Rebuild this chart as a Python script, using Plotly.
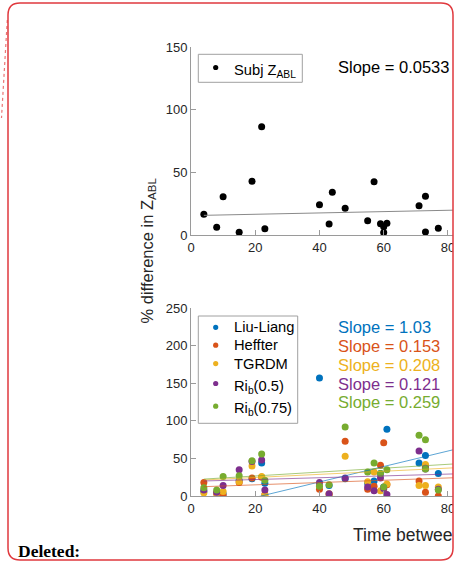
import plotly.graph_objects as go

# ---------------- data ----------------
x_subj = [4, 8, 10, 15, 19, 22, 23, 40, 43, 44, 48, 55, 57, 59, 60, 60, 61, 71, 73, 73, 77]
y_subj = [16.5, 6.1, 30.6, 2.1, 42.9, 86.5, 5.0, 24.2, 8.8, 34.1, 21.3, 11.4, 42.6, 9.0, 6.6, 2.0, 9.3, 23.4, 30.9, 2.4, 5.3]
subj_name = "Subj Z<sub>ABL</sub>"
subj_slope = 0.0533
subj_intercept = 15.5

x_methods = [4, 8, 10, 15, 19, 22, 23, 40, 43, 48, 55, 57, 59, 60, 61, 71, 73, 73, 77]
liu_liang = [6, 4, 3, 21, 23, 44, 17, 157, 14, 23, 17, 20, 30, 12, 89, 44, 54, 38, 30]
heffter   = [18, 3, 1, 18, 24, 25, 2, 9, 2, 73, 9, 13, 41, 71, 15, 20, 40, 5, 0]
tgrdm     = [4, 4, 6, 19, 40, 26, 1, 14, 3, 53, 19, 32, 7, 8, 16, 14, 42, 14, 12]
rib05     = [8, 5, 14, 35, 46, 48, 8, 18, 3, 24, 12, 7, 24, 10, 2, 60, 37, 36, 9]
rib075    = [11, 8, 26, 27, 47, 56, 21, 13, 15, 92, 32, 44, 30, 12, 35, 81, 75, 36, 8]

method_names = ["Liu-Liang", "Heffter", "TGRDM", "Ri<sub>b</sub>(0.5)", "Ri<sub>b</sub>(0.75)"]
method_slopes = [1.03, 0.153, 0.208, 0.121, 0.259]
method_intercepts = [-22.5, 11.8, 20.5, 19.5, 21.5]
method_slope_labels = ["1.03", "0.153", "0.208", "0.121", "0.259"]
fit_x_range = [4, 85]

x_ticks = [0, 20, 40, 60, 80]
y_ticks_top = [0, 50, 100, 150]
y_ticks_bot = [0, 50, 100, 150, 200, 250]

colors = ["#0072BD", "#D95319", "#EDB120", "#7E2F8E", "#77AC30"]
method_values = [liu_liang, heffter, tgrdm, rib05, rib075]

# ---------------- layout geometry ----------------
W, H = 464, 564
L = 191
PW = W - L


def px_x(px):
    return (px - L) / PW


def px_y(py):
    return (H - py) / H


FONT = "Liberation Sans, Arial, Helvetica, sans-serif"
TXT = "#262626"
AX = "#9a9a9a"

fig = go.Figure()

# ---- top panel ----
fig.add_trace(go.Scatter(x=x_subj, y=y_subj, mode="markers", name=subj_name,
                         marker=dict(color="black", size=7),
                         xaxis="x", yaxis="y", showlegend=False, hoverinfo="skip"))
fig.add_trace(go.Scatter(x=fit_x_range,
                         y=[subj_intercept + subj_slope * v for v in fit_x_range],
                         mode="lines", line=dict(color="#8a8a8a", width=1),
                         xaxis="x", yaxis="y", showlegend=False, hoverinfo="skip"))

# ---- bottom panel ----
for vals, c, n in zip(method_values, colors, method_names):
    fig.add_trace(go.Scatter(x=x_methods, y=vals, mode="markers", name=n,
                             marker=dict(color=c, size=7),
                             xaxis="x2", yaxis="y2", showlegend=False, hoverinfo="skip"))
for s, b, c in zip(method_slopes, method_intercepts, colors):
    fig.add_trace(go.Scatter(x=fit_x_range, y=[b + s * v for v in fit_x_range],
                             mode="lines", line=dict(color=c, width=0.8),
                             opacity=0.8,
                             xaxis="x2", yaxis="y2", showlegend=False, hoverinfo="skip"))

axis_common = dict(showline=True, linecolor=AX, linewidth=1, ticks="inside",
                   ticklen=5, tickcolor=AX, tickwidth=1, showgrid=False,
                   zeroline=False, tickfont=dict(family=FONT, size=13, color=TXT),
                   mirror=False, automargin=False)

fig.update_layout(
    template="none",
    width=W, height=H,
    margin=dict(l=L, r=0, t=0, b=0, pad=0, autoexpand=False),
    paper_bgcolor="white", plot_bgcolor="white",
    xaxis=dict(domain=[0, 1], range=[0, 85], tickvals=x_ticks, anchor="y", **axis_common),
    yaxis=dict(domain=[px_y(235), px_y(47.3)], range=[0, 150], tickvals=y_ticks_top,
               anchor="x", **axis_common),
    xaxis2=dict(domain=[0, 1], range=[0, 85], tickvals=x_ticks, anchor="y2", **axis_common),
    yaxis2=dict(domain=[px_y(496), px_y(308.3)], range=[0, 250], tickvals=y_ticks_bot,
                anchor="x2", **axis_common),
    showlegend=False,
    hovermode=False,
)

ann = []
shapes = []

# ---- legend boxes (drawn as framed keys) ----
def legend_box(left, top, right, bottom, entries):
    shapes.append(dict(type="rect", xref="paper", yref="paper",
                       x0=px_x(left), x1=px_x(right), y0=px_y(bottom), y1=px_y(top),
                       fillcolor="white", line=dict(color="#a0a0a0", width=1), layer="above"))
    for name, col, ym in entries:
        shapes.append(dict(type="circle", xref="paper", yref="paper",
                           xsizemode="pixel", ysizemode="pixel",
                           xanchor=px_x(left + 17.4), yanchor=px_y(ym),
                           x0=-2.6, x1=2.6, y0=-2.6, y1=2.6,
                           fillcolor=col, line=dict(width=0), layer="above"))
        off = 3.2 if "<sub>" in name else 0
        ann.append(dict(text=name, xref="paper", yref="paper",
                        x=px_x(left + 34), y=px_y(ym + off), xanchor="left",
                        yanchor="middle", showarrow=False,
                        font=dict(family=FONT, size=14.7, color="black")))


legend_box(198.3, 54.3, 302.3, 82.3, [(subj_name, "black", 67.5)])
legend_box(198.3, 316, 297.7, 423.3,
           list(zip(method_names, colors, [327.3, 345.2, 363.6, 383.5, 406.2])))

ann.append(dict(text=f"Slope = {subj_slope}", xref="paper", yref="paper",
                x=px_x(335.7), y=px_y(67.3), xanchor="left", yanchor="middle",
                showarrow=False, font=dict(family=FONT, size=16.5, color="black")))
for i, (lab, c) in enumerate(zip(method_slope_labels, colors)):
    ann.append(dict(text=f"Slope = {lab}", xref="paper", yref="paper",
                    x=px_x(335.7), y=px_y(327.3 + i * 18.75), xanchor="left",
                    yanchor="middle", showarrow=False,
                    font=dict(family=FONT, size=16.5, color=c)))
ann.append(dict(text="% difference in Z<sub>ABL</sub>", textangle=-90,
                xref="paper", yref="paper", x=px_x(147), y=px_y(250.5),
                xanchor="center", yanchor="middle", showarrow=False,
                font=dict(family=FONT, size=16.5, color=TXT)))
ann.append(dict(text="Time betwee", xref="paper", yref="paper",
                x=px_x(351), y=px_y(535), xanchor="left", yanchor="middle",
                showarrow=False, font=dict(family=FONT, size=17.5, color=TXT)))
ann.append(dict(text="<b>Deleted:</b>", xref="paper", yref="paper",
                x=px_x(16), y=px_y(550.5), xanchor="left", yanchor="middle",
                showarrow=False,
                font=dict(family="Liberation Serif, Times New Roman, serif", size=17.5, color="black")))
fig.update_layout(annotations=ann)

# ---- page decorations (comment balloon border) ----
x0, y0, x1, y1, r = 8, 3, 453, 560, 12
path = (f"M {px_x(x0 + r)},{px_y(y0)} L {px_x(x1 - r)},{px_y(y0)} "
        f"Q {px_x(x1)},{px_y(y0)} {px_x(x1)},{px_y(y0 + r)} "
        f"L {px_x(x1)},{px_y(y1 - r)} Q {px_x(x1)},{px_y(y1)} {px_x(x1 - r)},{px_y(y1)} "
        f"L {px_x(x0 + r)},{px_y(y1)} Q {px_x(x0)},{px_y(y1)} {px_x(x0)},{px_y(y1 - r)} "
        f"L {px_x(x0)},{px_y(y0 + r)} Q {px_x(x0)},{px_y(y0)} {px_x(x0 + r)},{px_y(y0)} Z")
shapes += [
    dict(type="rect", xref="paper", yref="paper", x0=px_x(x1), x1=px_x(W + 5),
         y0=px_y(H + 5), y1=px_y(-5), fillcolor="white", line=dict(width=0), layer="above"),
    dict(type="path", xref="paper", yref="paper", path=path,
         line=dict(color="#e0393e", width=1.5), layer="above"),
    dict(type="line", xref="paper", yref="paper", x0=px_x(7.3), y0=px_y(20),
         x1=px_x(1.5), y1=px_y(118), line=dict(color="rgba(225,60,60,0.7)", width=1.2, dash="dot"),
         layer="above"),
]
fig.update_layout(shapes=shapes)

fig.write_html("out.html")
